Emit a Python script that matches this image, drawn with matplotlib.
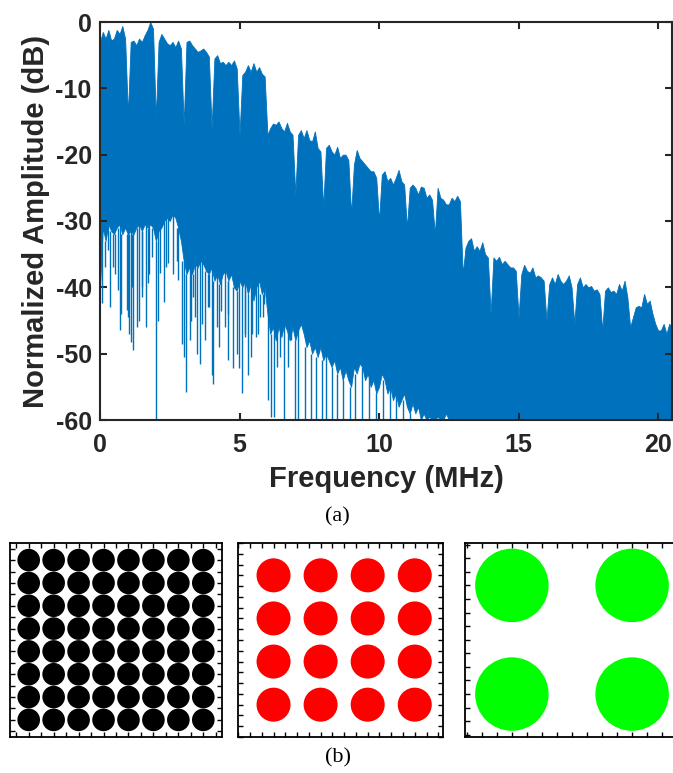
import numpy as np
import matplotlib
matplotlib.use("Agg")
import matplotlib.pyplot as plt

# ---------------- data ----------------
freq_mhz = np.round(np.arange(0, 20.51, 0.1), 1)   # 0.0 .. 20.5 MHz grid (206 pts)

# upper envelope of the spectrum (dB), one value per 0.1 MHz
upper_db = [
    -3, -1.5, -2.5, -1.2, -2.8, -2.5, -1.2, -1.8, -0.6, -2.5, -14,
    -3, -2.8, -3.5, -2.5, -3.0, -2.0, -1.2, 0, -1.0, -14.5,
    -3, -1.8, -2.5, -3.2, -3.5, -3.0, -3.8, -2.8, -4, -15.5,
    -3, -2.8, -3.5, -4, -4.5, -4.3, -4.0, -4.5, -5.2, -16,
    -5.5, -5, -6.2, -6.0, -6.5, -6.0, -6.5, -5.8, -7, -17,
    -8, -7.5, -6.5, -7.5, -6.2, -7.5, -6.8, -7.8, -8.2, -17,
    -16, -15.3, -15.5, -15, -16, -16.5, -15.2, -16.5, -17, -26,
    -17, -16.3, -17.5, -16.3, -17.8, -18, -16.5, -19, -19.5, -28,
    -19, -18.5, -19.5, -20, -18.8, -20.5, -20, -20, -20.8, -29,
    -21.5, -19.3, -20.5, -21, -21.5, -22, -22.5, -22.5, -23.5, -30,
    -23, -22.5, -24, -23.5, -24.5, -23.5, -22.3, -24, -24.5, -31,
    -25, -24.5, -25, -26, -24.8, -25, -26.5, -26, -26.8, -32,
    -25, -26.5, -26.8, -27.5, -27.5, -26.5, -27, -26.2, -27, -38,
    -34, -33, -32.6, -34.5, -33.8, -34.5, -33.2, -35, -35.5, -44,
    -35.5, -36, -35.4, -36.5, -36, -36.5, -37, -37, -37.5, -44.5,
    -38, -36.6, -37.5, -37.8, -37, -38.5, -38.2, -38.5, -39, -45,
    -39.5, -38.5, -39.5, -38, -39, -39.5, -39, -38.2, -40, -45.5,
    -39.5, -38.5, -40, -39.5, -40, -39.8, -40.5, -40.3, -41, -46.5,
    -40.5, -40, -40.7, -40.5, -41, -39.5, -40.5, -39, -41.5, -46,
    -44.5, -43, -42.8, -43, -41, -42.5, -42, -44, -45.5, -46.5,
    -46.5, -45.5, -47, -45.5, -46,
]

# lower edge of the solid part of the spectrum (dB)
floor_db = [
    -40, -31, -33, -30.5, -31.5, -32, -31, -30.5, -32, -31, -32,
    -31.5, -32, -31, -30.5, -31.5, -30.5, -31, -30.5, -31, -33,
    -31.5, -31, -30, -29.5, -30, -29, -29.5, -31, -33, -36,
    -38, -37, -38, -36.5, -37, -36, -36.5, -37.5, -38, -37,
    -39, -38, -39.5, -38, -37.5, -39, -38, -40, -40.5, -39,
    -40, -39, -41, -39.5, -42, -40, -39, -41, -40, -44,
    -47, -46, -48, -46, -47.5, -45.5, -46.5, -48, -46, -48,
    -46.5, -45.5, -47, -49, -48, -50, -49, -50.5, -49, -51,
    -50, -51, -52, -51, -53, -52, -54, -52.5, -54, -55,
    -52, -53, -51.5, -52, -54, -53, -55, -54, -56, -55,
    -53, -54, -56, -55, -57, -56, -58, -57, -56, -58,
    -59, -57.5, -59, -58, -60, -59, -60, -59.5, -60, -60,
    -59.5, -60, -60, -59, -60, -60, -60, -60, -60, -60,
    -60, -60, -60, -60, -60, -60, -60, -60, -60, -60,
    -60, -60, -60, -60, -60, -60, -60, -60, -60, -60,
    -60, -60, -60, -60, -60, -60, -60, -60, -60, -60,
    -60, -60, -60, -60, -60, -60, -60, -60, -60, -60,
    -60, -60, -60, -60, -60, -60, -60, -60, -60, -60,
    -60, -60, -60, -60, -60, -60, -60, -60, -60, -60,
    -60, -60, -60, -60, -60, -60, -60, -60, -60, -60,
    -60, -60, -60, -60, -60,
]

# deep downward spikes below the solid part
spike_f = [0.08, 0.18, 0.30, 0.36, 0.48, 0.54, 0.63, 0.72, 0.75, 0.96, 1.00, 1.05,
           1.10, 1.16, 1.20, 1.31, 1.41, 1.49, 1.52, 1.64, 1.73, 1.75, 1.87, 2.00,
           2.09, 2.15, 2.29, 2.36, 2.45, 2.60, 2.75, 2.81, 2.95, 3.01, 3.10, 3.23,
           3.25, 3.34, 3.40, 3.46, 3.58, 3.64, 3.75, 3.88, 3.90, 4.00, 4.06, 4.18,
           4.27, 4.35, 4.47, 4.60, 4.60, 4.78, 4.90, 4.98, 5.08, 5.20, 5.20, 5.32,
           5.41, 5.45, 5.60, 5.67, 5.75, 5.85, 5.88, 6.03, 6.12, 6.25, 6.36, 6.45,
           6.60, 6.72, 6.86, 7.00, 7.10, 7.35, 7.55, 7.75, 7.95, 8.10, 8.30, 8.50,
           8.70, 8.95, 9.15, 9.40, 9.65, 9.90, 10.15, 10.40, 10.60, 10.85, 11.10]
spike_db = [-42.4, -37, -34.4, -43, -36.9, -38, -40.4, -46.5, -44, -43.4, -44.4, -47,
            -48.2, -39.9, -49.5, -46, -45, -41.4, -40, -46, -39.4, -38, -35.4, -60,
            -45, -37.9, -42.2, -37, -36.4, -38, -36, -38.9, -48.5, -50.5, -55.8, -48,
            -45, -41.4, -44.4, -50, -51.5, -45.5, -48, -42.9, -43, -53.2, -54.5, -46,
            -49, -43.5, -46, -44, -51, -52.2, -50, -52.2, -56, -47, -47.5, -53.2,
            -50.5, -47, -47.5, -47, -44.5, -44.4, -42.5, -57, -59.5, -59.5, -52, -50.5,
            -60, -52, -48, -60, -60, -60, -60, -60, -60, -60, -60, -60,
            -60, -60, -60, -60, -60, -60, -60, -60, -60, -60, -60]

x_ticks = [0, 5, 10, 15, 20]
y_ticks = [-60, -50, -40, -30, -20, -10, 0]
y_tick_labels = ["-60", "-50", "-40", "-30", "-20", "-10", "0"]

# constellation levels
qam64_levels = [-7, -5, -3, -1, 1, 3, 5, 7]
qam16_levels = [-3, -1, 1, 3]
qpsk_levels = [-1, 1]

# ---------------- style ----------------
plt.rcParams['font.family'] = ['Liberation Sans', 'DejaVu Sans']
BLUE = '#0072BD'
AXC = '#262626'

W, H = 673, 773
fig = plt.figure(figsize=(W / 100, H / 100), dpi=100)

def box(x0, y0, x1, y1):
    return [x0 / W, 1 - y1 / H, (x1 - x0) / W, (y1 - y0) / H]

# ---------------- spectrum ----------------
ax = fig.add_axes(box(100, 22, 672, 420))
ax.fill_between(freq_mhz, upper_db, floor_db, color=BLUE, lw=0.6, edgecolor=BLUE)
ax.vlines(spike_f, [floor_db[int(round(s * 10))] for s in spike_f], spike_db,
          color=BLUE, lw=1.0)
ax.set_xlim(0, 20.5)
ax.set_ylim(-60, 0)
ax.set_xticks(x_ticks)
ax.set_xticklabels([str(t) for t in x_ticks])
ax.set_yticks(y_ticks)
ax.set_yticklabels(y_tick_labels)
for s in ax.spines.values():
    s.set_color(AXC)
    s.set_linewidth(1.5)
ax.tick_params(direction='in', length=5, width=1.5, color=AXC,
               top=True, right=True, labelsize=18, labelcolor=AXC)
ax.tick_params(axis='x', pad=9)
ax.tick_params(axis='y', pad=6)
for lab in ax.get_xticklabels() + ax.get_yticklabels():
    lab.set_fontweight('bold')
ax.set_xlabel('Frequency (MHz)', fontsize=21, fontweight='bold', color=AXC, labelpad=6)
ax.set_ylabel('Normalized Amplitude (dB)', fontsize=21, fontweight='bold', color=AXC, labelpad=4)

fig.text(337 / W, 1 - 517 / H, '(a)', family='Liberation Serif', fontsize=16,
         ha='center', va='center')

# ---------------- constellations ----------------
def constellation(rect, levels, xlim, ylim, step, color, size):
    a = fig.add_axes(rect)
    gx, gy = np.meshgrid(levels, levels)
    a.scatter(gx.ravel(), gy.ravel(), s=size, color=color, edgecolors='none', zorder=2)
    a.set_xlim(*xlim)
    a.set_ylim(*ylim)
    a.set_xticks(np.arange(np.ceil(xlim[0] / step) * step, xlim[1] + 1e-9, step))
    a.set_yticks(np.arange(np.ceil(ylim[0] / step) * step, ylim[1] + 1e-9, step))
    a.tick_params(direction='in', length=3.5, width=1, top=True, right=True,
                  labelbottom=False, labelleft=False)
    for s in a.spines.values():
        s.set_linewidth(1.3)
        s.set_color('black')
    return a

constellation(box(10, 543, 222, 737), qam64_levels, (-8.5, 8.5), (-8.5, 8.5), 1.0,
              'black', 265)
constellation(box(238, 543, 443, 737), qam16_levels, (-4.51, 4.2), (-4.5, 4.5), 0.5,
              '#FF0000', 600)
constellation(box(465, 543, 679, 737), qpsk_levels, (-1.78, 1.78), (-1.79, 1.78), 0.25,
              '#00FF00', 2800)

fig.text(338 / W, 1 - 758 / H, '(b)', family='Liberation Serif', fontsize=16,
         ha='center', va='center')

fig.savefig('out.png', dpi=100)
